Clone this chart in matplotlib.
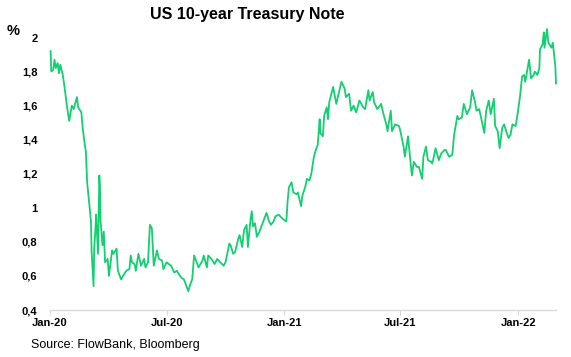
import matplotlib
matplotlib.use("Agg")
import matplotlib.pyplot as plt
import pandas as pd

dates = [
    "2020-01-02","2020-01-03","2020-01-06","2020-01-08","2020-01-10","2020-01-13","2020-01-15","2020-01-17",
    "2020-01-21","2020-01-24","2020-01-27","2020-01-31","2020-02-04","2020-02-07","2020-02-12","2020-02-14",
    "2020-02-19","2020-02-21","2020-02-24","2020-02-26","2020-02-28","2020-03-03","2020-03-05","2020-03-06",
    "2020-03-09","2020-03-10","2020-03-11","2020-03-12","2020-03-13","2020-03-16","2020-03-18","2020-03-19",
    "2020-03-20","2020-03-23","2020-03-25","2020-03-27","2020-03-31","2020-04-02","2020-04-07","2020-04-09",
    "2020-04-14","2020-04-16","2020-04-21","2020-04-24","2020-04-29","2020-05-04","2020-05-06","2020-05-08",
    "2020-05-12","2020-05-14","2020-05-18","2020-05-22","2020-05-27","2020-05-29","2020-06-02","2020-06-04",
    "2020-06-05","2020-06-08","2020-06-10","2020-06-11","2020-06-16","2020-06-19","2020-06-24","2020-06-26",
    "2020-07-01","2020-07-08","2020-07-13","2020-07-17","2020-07-22","2020-07-24","2020-07-28","2020-07-31",
    "2020-08-04","2020-08-06","2020-08-10","2020-08-13","2020-08-17","2020-08-20","2020-08-26","2020-08-28",
    "2020-09-02","2020-09-04","2020-09-09","2020-09-14","2020-09-18","2020-09-23","2020-09-28","2020-10-01",
    "2020-10-07","2020-10-09","2020-10-13","2020-10-16","2020-10-21","2020-10-23","2020-10-27","2020-10-30",
    "2020-11-03","2020-11-05","2020-11-09","2020-11-11","2020-11-13","2020-11-16","2020-11-19","2020-11-23",
    "2020-11-25","2020-12-01","2020-12-04","2020-12-08","2020-12-11","2020-12-15","2020-12-18","2020-12-23",
    "2020-12-28","2020-12-31",
    "2021-01-04","2021-01-06","2021-01-08","2021-01-12","2021-01-15","2021-01-20","2021-01-22","2021-01-27",
    "2021-01-29","2021-02-03","2021-02-05","2021-02-09","2021-02-12","2021-02-16","2021-02-19","2021-02-22",
    "2021-02-25","2021-02-26","2021-03-02","2021-03-04","2021-03-08","2021-03-10","2021-03-12","2021-03-18",
    "2021-03-23","2021-03-26","2021-03-31","2021-04-05","2021-04-07","2021-04-12","2021-04-15","2021-04-19",
    "2021-04-23","2021-04-28","2021-05-04","2021-05-07","2021-05-12","2021-05-14","2021-05-19","2021-05-21",
    "2021-05-26","2021-06-01","2021-06-04","2021-06-09","2021-06-11","2021-06-16","2021-06-18","2021-06-23",
    "2021-06-29","2021-07-01","2021-07-06","2021-07-08","2021-07-13","2021-07-16","2021-07-19","2021-07-22",
    "2021-07-27","2021-07-30","2021-08-04","2021-08-06","2021-08-10","2021-08-13","2021-08-18","2021-08-20",
    "2021-08-25","2021-08-30","2021-09-03","2021-09-08","2021-09-10","2021-09-15","2021-09-20","2021-09-23",
    "2021-09-28","2021-09-30","2021-10-05","2021-10-08","2021-10-13","2021-10-18","2021-10-21","2021-10-25",
    "2021-10-28","2021-11-01","2021-11-04","2021-11-09","2021-11-12","2021-11-16","2021-11-19","2021-11-24",
    "2021-11-26","2021-11-30","2021-12-03","2021-12-07","2021-12-10","2021-12-14","2021-12-17","2021-12-20",
    "2021-12-23","2021-12-28","2021-12-31",
    "2022-01-04","2022-01-07","2022-01-10","2022-01-12","2022-01-18","2022-01-21","2022-01-25","2022-01-27",
    "2022-01-31","2022-02-03","2022-02-04","2022-02-08","2022-02-10","2022-02-11","2022-02-15","2022-02-17",
    "2022-02-22","2022-02-24","2022-02-28","2022-03-01",
]

yields = [
    1.92,1.80,1.81,1.87,1.82,1.85,1.79,1.84,
    1.78,1.70,1.61,1.51,1.60,1.58,1.65,1.59,
    1.56,1.47,1.38,1.33,1.15,1.00,0.92,0.74,
    0.54,0.76,0.82,0.88,0.96,0.73,1.19,1.12,
    0.92,0.78,0.86,0.68,0.70,0.60,0.75,0.73,
    0.76,0.63,0.58,0.60,0.63,0.64,0.72,0.68,
    0.67,0.63,0.73,0.66,0.70,0.65,0.68,0.82,
    0.90,0.88,0.74,0.66,0.75,0.70,0.69,0.64,
    0.68,0.66,0.62,0.63,0.60,0.59,0.58,0.55,
    0.51,0.54,0.58,0.72,0.68,0.65,0.69,0.72,
    0.65,0.72,0.70,0.67,0.70,0.68,0.66,0.68,
    0.79,0.78,0.73,0.74,0.82,0.84,0.77,0.87,
    0.90,0.77,0.93,0.98,0.89,0.91,0.83,0.86,
    0.88,0.94,0.97,0.92,0.90,0.92,0.95,0.96,
    0.94,0.93,
    0.92,1.04,1.12,1.15,1.09,1.08,1.09,1.01,
    1.07,1.13,1.17,1.16,1.20,1.30,1.34,1.37,
    1.52,1.44,1.42,1.54,1.59,1.52,1.62,1.71,
    1.61,1.66,1.74,1.70,1.65,1.67,1.57,1.60,
    1.56,1.63,1.59,1.58,1.69,1.63,1.68,1.62,
    1.58,1.61,1.56,1.49,1.45,1.57,1.45,1.49,
    1.48,1.45,1.36,1.30,1.42,1.30,1.19,1.27,
    1.24,1.24,1.17,1.30,1.36,1.28,1.27,1.26,
    1.35,1.28,1.32,1.34,1.34,1.30,1.31,1.43,
    1.54,1.52,1.53,1.61,1.55,1.59,1.69,1.63,
    1.57,1.58,1.53,1.44,1.57,1.63,1.55,1.64,
    1.48,1.45,1.35,1.47,1.49,1.44,1.41,1.43,
    1.49,1.48,1.55,
    1.66,1.77,1.78,1.74,1.87,1.76,1.78,1.80,
    1.78,1.82,1.93,1.96,2.03,1.94,2.05,1.97,
    1.94,1.97,1.83,1.73,
]

tick_dates = ["2020-01-01", "2020-07-01", "2021-01-01", "2021-07-01", "2022-01-01"]
tick_labels = ["Jan-20", "Jul-20", "Jan-21", "Jul-21", "Jan-22"]
y_ticks = [0.4, 0.6, 0.8, 1.0, 1.2, 1.4, 1.6, 1.8, 2.0]
y_labels = ["0,4", "0,6", "0,8", "1", "1,2", "1,4", "1,6", "1,8", "2"]

plt.rcParams['font.family'] = ['Liberation Sans', 'DejaVu Sans']

fig = plt.figure(figsize=(5.71, 3.57), dpi=100)
ax = fig.add_axes([50/571, 1-310/357, 506/571, (310-37.5)/357])

x = pd.to_datetime(dates)
ax.plot(x, yields, color='#12D070', lw=1.3, clip_on=False)

ax.set_xlim(pd.Timestamp("2020-01-01"), pd.Timestamp("2022-03-01"))
ax.set_ylim(0.4, 2.0)

ax.set_yticks(y_ticks)
ax.set_yticklabels(y_labels, fontsize=8, fontweight='bold')
ax.set_xticks(pd.to_datetime(tick_dates))
ax.set_xticklabels(tick_labels, fontsize=8, fontweight='bold')

for s in ['top', 'right', 'left']:
    ax.spines[s].set_visible(False)
ax.spines['bottom'].set_color('#D9D9D9')
ax.spines['bottom'].set_linewidth(1.0)
ax.tick_params(axis='y', length=0, pad=9)
ax.tick_params(axis='x', length=3.5, color='#D9D9D9', pad=2.5)

fig.text(247/571, 1-15/357, "US 10-year Treasury Note", ha='center', va='center',
         fontsize=11.5, fontweight='bold')
fig.text(7/571, 1-31/357, "%", ha='left', va='center', fontsize=10.5, fontweight='bold')
fig.text(31/571, 1-345/357, "Source: FlowBank, Bloomberg", ha='left', va='center', fontsize=9)

fig.savefig("out.png", dpi=100)
